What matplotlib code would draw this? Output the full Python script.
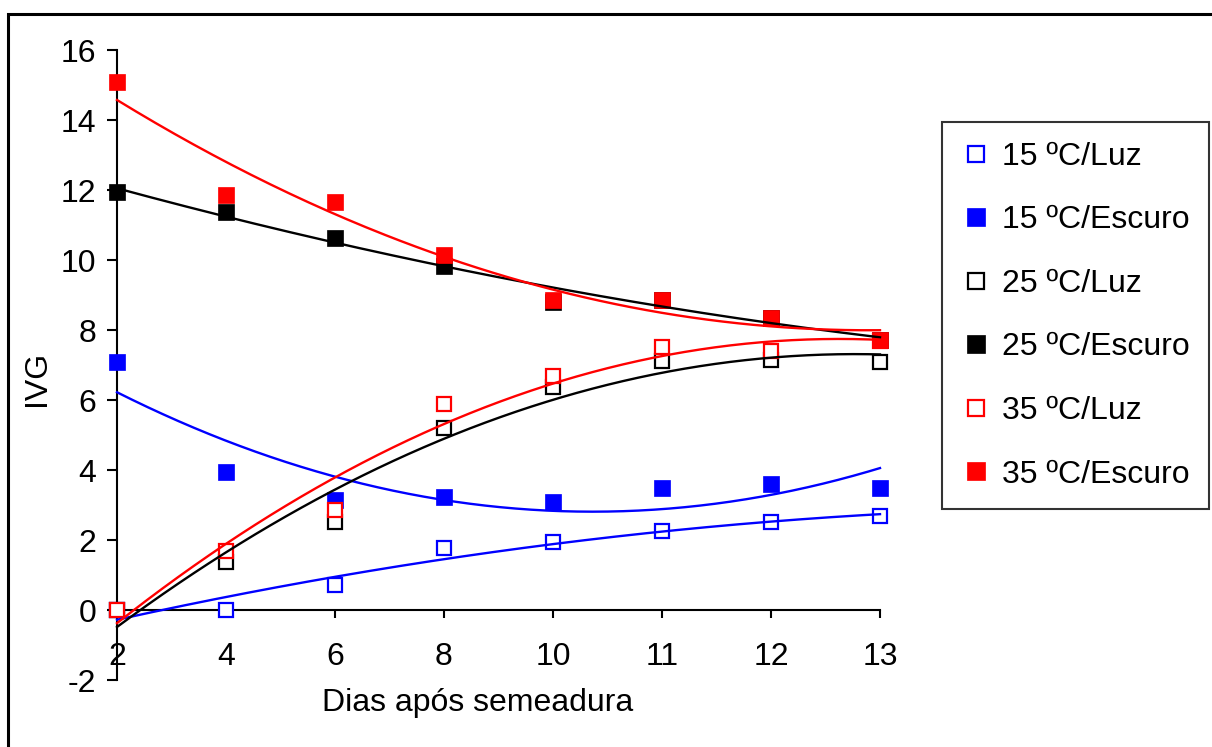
import numpy as np
import matplotlib
matplotlib.use("Agg")
import matplotlib.pyplot as plt
from matplotlib.lines import Line2D
from matplotlib.patches import Rectangle

plt.rcParams['font.family'] = ['Liberation Sans', 'DejaVu Sans']
plt.rcParams['axes.unicode_minus'] = False

# dias após semeadura (eixo de categorias)
dias = ['2', '4', '6', '8', '10', '11', '12', '13']

ivg_15_luz = [0.0, 0.0, 0.71, 1.77, 1.94, 2.26, 2.51, 2.69]
ivg_15_escuro = [7.09, 3.94, 3.14, 3.23, 3.09, 3.49, 3.60, 3.49]
ivg_25_luz = [0.0, 1.37, 2.51, 5.20, 6.37, 7.11, 7.14, 7.09]
ivg_25_escuro = [11.94, 11.37, 10.63, 9.83, 8.80, 8.86, 8.34, 7.71]
ivg_35_luz = [0.0, 1.69, 2.86, 5.89, 6.69, 7.51, 7.40, 7.69]
ivg_35_escuro = [15.09, 11.86, 11.66, 10.14, 8.86, 8.86, 8.34, 7.71]

series = [
    ('15 ºC/Luz', ivg_15_luz, '#0000FF', False),
    ('15 ºC/Escuro', ivg_15_escuro, '#0000FF', True),
    ('25 ºC/Luz', ivg_25_luz, 'black', False),
    ('25 ºC/Escuro', ivg_25_escuro, 'black', True),
    ('35 ºC/Luz', ivg_35_luz, '#FF0000', False),
    ('35 ºC/Escuro', ivg_35_escuro, '#FF0000', True),
]

W, H = 1212, 747
fig = plt.figure(figsize=(W / 100, H / 100), dpi=100)
ax = fig.add_axes([117 / W, 1 - 680 / H, (880 - 117) / W, 630 / H])

x = np.arange(1, len(dias) + 1)
xs = np.linspace(1, len(dias), 200)

handles = []
for label, vals, color, filled in series:
    if filled:
        kw = dict(markerfacecolor=color, markeredgecolor=color, markersize=12, markeredgewidth=0.5)
    else:
        kw = dict(markerfacecolor='white', markeredgecolor=color, markersize=10.5, markeredgewidth=1.6)
    ax.plot(x, vals, linestyle='none', marker='s', clip_on=False, zorder=3, **kw)
    handles.append(Line2D([], [], linestyle='none', marker='s',
                          **dict(kw, markersize=kw['markersize'] + 1)))

# linhas de tendência polinomiais (ordem 2)
for label, vals, color, filled in series:
    coef = np.polyfit(x, vals, 2)
    ax.plot(xs, np.polyval(coef, xs), color=color, lw=1.7, zorder=4, clip_on=False)

ax.set_xlim(1, len(dias))
ax.set_ylim(-2, 16)
ax.set_yticks(np.arange(-2, 17, 2))
ax.set_xticks(x)
ax.set_xticklabels(dias)

for s in ['top', 'right']:
    ax.spines[s].set_visible(False)
ax.spines['bottom'].set_position(('data', 0))
ax.spines['left'].set_linewidth(1.5)
ax.spines['bottom'].set_linewidth(1.5)
ax.tick_params(axis='y', direction='out', length=7, width=1.5, labelsize=23, pad=8)
ax.tick_params(axis='x', direction='out', length=6, width=1.5, labelsize=23, pad=17)

ax.set_ylabel('IVG', fontsize=23)
ax.yaxis.set_label_coords(-0.085, (680 - 378) / 630)
ax.set_xlabel('Dias após semeadura', fontsize=23)
ax.xaxis.set_label_coords((478 - 117) / 763, (680 - 703) / 630)
ax.xaxis.label.set_va('center')

leg = fig.legend(handles, [s[0] for s in series], loc='upper left',
                 bbox_to_anchor=(942 / W, 1 - 122 / H), borderaxespad=0,
                 fontsize=23, frameon=True, fancybox=False, labelspacing=1.05,
                 handlelength=0.9, handletextpad=0.35, borderpad=0.62)
leg.get_frame().set_edgecolor('black')
leg.get_frame().set_linewidth(1.5)

# moldura da área do gráfico
fig.patches.append(Rectangle((8 / W, -0.1), 2, 1 - 14 / H + 0.1, transform=fig.transFigure,
                             fill=False, edgecolor='black', lw=2.2))

fig.savefig('out.png', dpi=100)
